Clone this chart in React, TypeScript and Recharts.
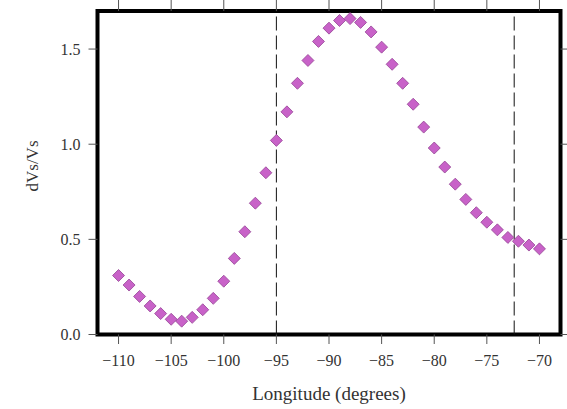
import React from 'react';
import {
  ScatterChart,
  Scatter,
  XAxis,
  YAxis,
  ReferenceLine,
  ReferenceArea,
} from 'recharts';

const longitudes = [
  -110, -109, -108, -107, -106, -105, -104, -103, -102, -101, -100, -99, -98, -97,
  -96, -95, -94, -93, -92, -91, -90, -89, -88, -87, -86, -85, -84, -83, -82, -81,
  -80, -79, -78, -77, -76, -75, -74, -73, -72, -71, -70,
];
const dvs = [
  0.31, 0.26, 0.2, 0.15, 0.11, 0.08, 0.07, 0.09, 0.13, 0.19, 0.28, 0.4, 0.54, 0.69,
  0.85, 1.02, 1.17, 1.32, 1.44, 1.54, 1.61, 1.65, 1.66, 1.64, 1.59, 1.51, 1.42, 1.32,
  1.21, 1.09, 0.98, 0.88, 0.79, 0.71, 0.64, 0.59, 0.55, 0.51, 0.49, 0.47, 0.45,
];
const xTicks = [-110, -105, -100, -95, -90, -85, -80, -75, -70];
const yTicks = [0, 0.5, 1.0, 1.5];
const dashedLines = [-95, -72.4];
const xDomain: [number, number] = [-112, -68];
const yDomain: [number, number] = [0, 1.7];

const data = longitudes.map((x, i) => ({ x, y: dvs[i] }));

const FONT = '"Liberation Serif", "DejaVu Serif", serif';

const Diamond = (props: any) => {
  const { cx, cy } = props;
  if (cx == null || cy == null) return null;
  const r = 6;
  return (
    <polygon
      points={`${cx},${cy - r} ${cx + r},${cy} ${cx},${cy + r} ${cx - r},${cy}`}
      fill="#c862c8"
      stroke="#944494"
      strokeWidth={0.8}
    />
  );
};

const fmtX = (v: number) => String(v).replace('-', '\u2212');
const fmtY = (v: number) => v.toFixed(1);
const NoTick = () => <g />;

export default function App() {
  return (
    <div style={{ position: 'absolute', left: 0, top: 0 }}>
      <ScatterChart
        width={567}
        height={409}
        margin={{ top: 0, right: 0, bottom: 8.5, left: 37.5 }}
        style={{ fontFamily: FONT }}
      >
        <XAxis
          xAxisId="0"
          dataKey="x"
          type="number"
          domain={xDomain}
          ticks={xTicks}
          allowDataOverflow
          axisLine={false}
          tickSize={9.5}
          tickMargin={11}
          tickLine={{ stroke: '#555', strokeWidth: 1 }}
          tick={{ fill: '#333', fontSize: 16, fontFamily: FONT }}
          tickFormatter={fmtX}
          height={66}
          label={(p: any) => {
            const vb = p.viewBox || {};
            const cx = (vb.x ?? 97.5) + (vb.width ?? 463) / 2;
            return (
              <text x={cx} y={400} textAnchor="middle" fill="#333" fontSize={19} fontFamily={FONT}>
                Longitude (degrees)
              </text>
            );
          }}
        />
        <XAxis
          xAxisId="top"
          orientation="top"
          dataKey="x"
          type="number"
          domain={xDomain}
          ticks={xTicks}
          allowDataOverflow
          axisLine={false}
          tickSize={11}
          tickLine={{ stroke: '#555', strokeWidth: 1 }}
          tick={NoTick}
          height={11}
        />
        <YAxis
          yAxisId="0"
          dataKey="y"
          type="number"
          domain={yDomain}
          ticks={yTicks}
          allowDataOverflow
          axisLine={false}
          tickSize={9}
          tickMargin={8}
          tickLine={{ stroke: '#555', strokeWidth: 1 }}
          tick={{ fill: '#333', fontSize: 16, fontFamily: FONT }}
          tickFormatter={fmtY}
          width={60}
          label={() => (
            <text
              x={38}
              y={166}
              transform="rotate(-90 38 166)"
              textAnchor="middle"
              fill="#333"
              fontSize={17}
              fontFamily={FONT}
            >
              dVs/Vs
            </text>
          )}
        />
        <YAxis
          yAxisId="right"
          orientation="right"
          dataKey="y"
          type="number"
          domain={yDomain}
          ticks={yTicks}
          allowDataOverflow
          axisLine={false}
          tickSize={7}
          tickLine={{ stroke: '#555', strokeWidth: 1 }}
          tick={NoTick}
          width={6.5}
        />
        {dashedLines.map((x) => (
          <ReferenceLine
            key={x}
            xAxisId="0"
            yAxisId="0"
            x={x}
            stroke="#111"
            strokeWidth={1}
            strokeDasharray="14 5"
          />
        ))}
        <Scatter
          xAxisId="0"
          yAxisId="0"
          data={data}
          shape={<Diamond />}
          isAnimationActive={false}
        />
        <ReferenceArea
          xAxisId="0"
          yAxisId="0"
          x1={xDomain[0]}
          x2={xDomain[1]}
          y1={yDomain[0]}
          y2={yDomain[1]}
          fill="none"
          fillOpacity={0}
          stroke="#000"
          strokeWidth={4}
          ifOverflow="visible"
        />
      </ScatterChart>
    </div>
  );
}
